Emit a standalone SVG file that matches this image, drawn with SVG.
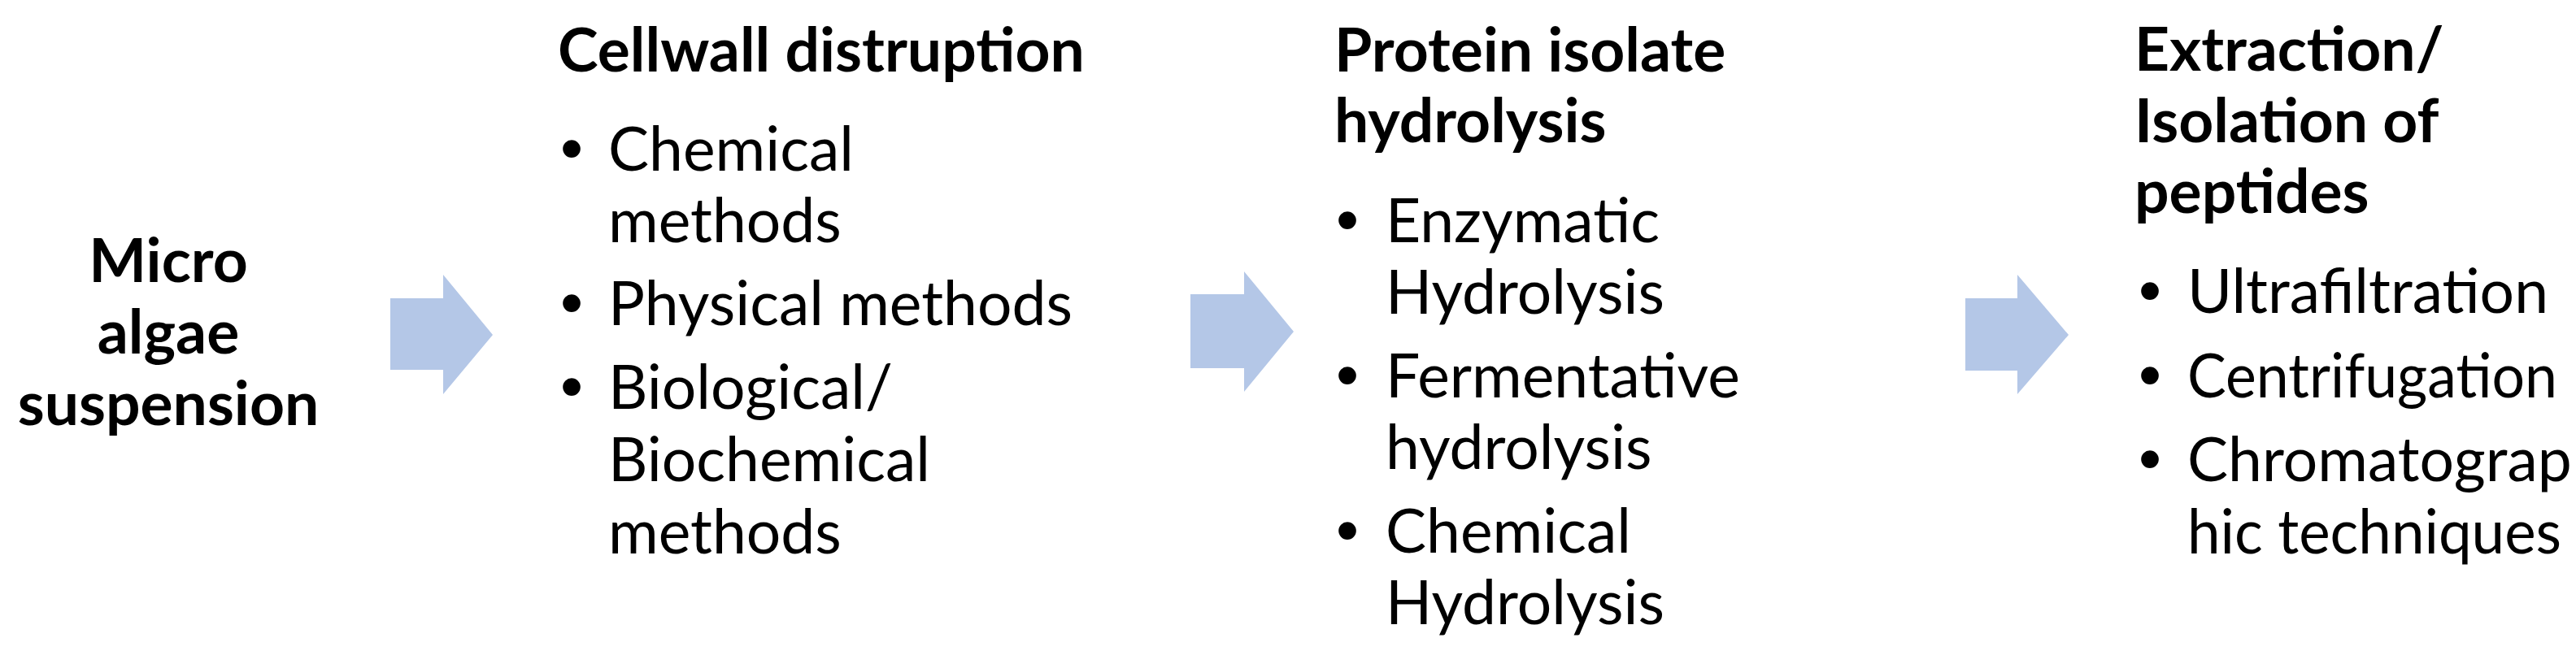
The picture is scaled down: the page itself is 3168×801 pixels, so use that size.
<svg xmlns="http://www.w3.org/2000/svg" width="3168" height="801" viewBox="0 0 3168 801">
<style>
.t{font-family:Lato,"Open Sans","Liberation Sans",sans-serif;font-size:75px;fill:#000}
.b{font-weight:bold}
.bl{font-family:"Liberation Sans",Arial,sans-serif;font-size:80px;fill:#000}
.arr{fill:#B4C7E7}
</style>
<rect width="3168" height="801" fill="#fff"/>
<g id="connectors">
<polygon class="arr" points="480,367 545,367 545,338 606,412 545,485 545,455 480,455"/>
<polygon class="arr" points="1464,362 1530,362 1530,334 1591,408 1530,482 1530,453 1464,453"/>
<polygon class="arr" points="2417,367 2481,367 2481,338 2544,412 2481,485 2481,456 2417,456"/>
</g>
<g id="node-microalgae">
<text class="t b" text-anchor="middle" x="207" y="347">Micro</text>
<text class="t b" text-anchor="middle" x="207" y="435">algae</text>
<text class="t b" text-anchor="middle" x="207" y="523">suspension</text>
</g>
<g id="node-cellwall">
<text class="t b" x="686" y="88">Cellwall distruption</text>
<text class="bl" x="689" y="210">•</text>
<text class="t" x="748" y="210">Chemical</text>
<text class="t" x="748" y="298">methods</text>
<text class="bl" x="689" y="400">•</text>
<text class="t" x="748" y="400">Physical methods</text>
<text class="bl" x="689" y="503">•</text>
<text class="t" x="748" y="503">Biological/</text>
<text class="t" x="748" y="592">Biochemical</text>
<text class="t" x="748" y="681">methods</text>
</g>
<g id="node-hydrolysis">
<text class="t b" x="1641" y="88">Protein isolate</text>
<text class="t b" x="1641" y="175">hydrolysis</text>
<text class="bl" x="1643" y="298">•</text>
<text class="t" x="1704" y="298">Enzymatic</text>
<text class="t" x="1704" y="386">Hydrolysis</text>
<text class="bl" x="1643" y="489">•</text>
<text class="t" x="1704" y="489">Fermentative</text>
<text class="t" x="1704" y="577">hydrolysis</text>
<text class="bl" x="1643" y="680">•</text>
<text class="t" x="1704" y="680">Chemical</text>
<text class="t" x="1704" y="768">Hydrolysis</text>
</g>
<g id="node-extraction">
<text class="t b" x="2625" y="87">Extraction/</text>
<text class="t b" x="2625" y="175">Isolation of</text>
<text class="t b" x="2625" y="262">peptides</text>
<text class="bl" x="2630" y="385">•</text>
<text class="t" x="2690" y="385">Ultrafiltration</text>
<text class="bl" x="2630" y="489">•</text>
<text class="t" x="2690" y="489" textLength="455" lengthAdjust="spacingAndGlyphs">Centrifugation</text>
<text class="bl" x="2630" y="592">•</text>
<text class="t" x="2690" y="592">Chromatograp</text>
<text class="t" x="2690" y="681" textLength="460" lengthAdjust="spacingAndGlyphs">hic techniques</text>
</g>
</svg>
